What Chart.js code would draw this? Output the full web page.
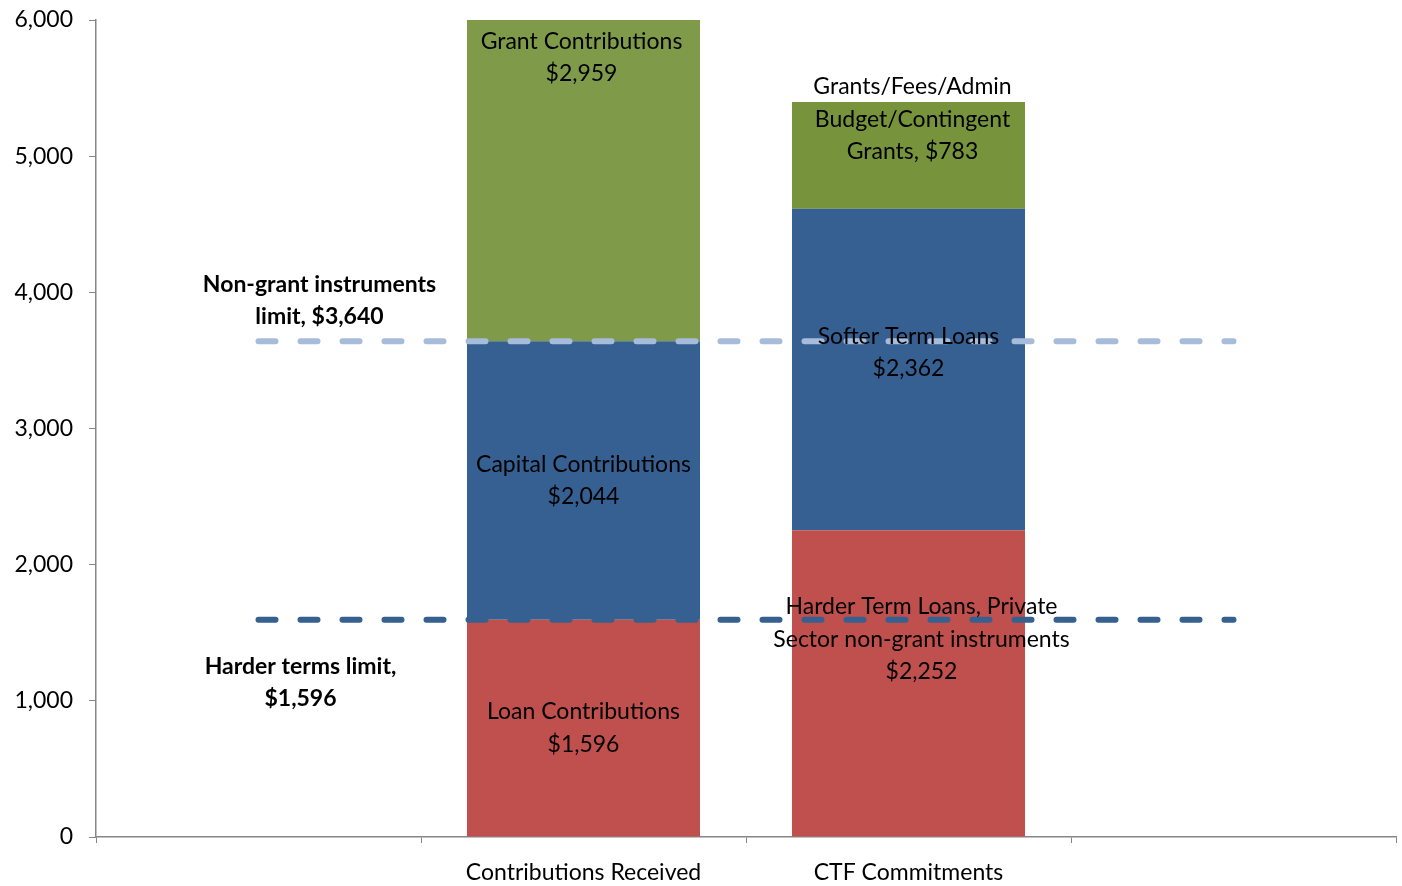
<!DOCTYPE html>
<html>
<head>
<meta charset="utf-8">
<script src="https://cdn.jsdelivr.net/npm/chart.js@4/dist/chart.umd.min.js"></script>
<style>
  body { margin: 0; background: #fff; }
  #wrap { width: 1402px; height: 886px; }
</style>
</head>
<body>
<div id="wrap"><canvas id="chart"></canvas></div>
<script>
// categories (outer two slots are empty, as in the original sheet)
const categories = ['', 'Contributions Received', 'CTF Commitments', ''];

// stacked segments, bottom to top
const bottomValues = [null, 1596, 2252, null];
const middleValues = [null, 2044, 2362, null];
const topValues = [null, 2959, 783, null];

// segment label text
const bottomLabels = [null, ['Loan Contributions', '$1,596'], ['Harder Term Loans, Private', 'Sector non-grant instruments', '$2,252'], null];
const middleLabels = [null, ['Capital Contributions', '$2,044'], ['Softer Term Loans', '$2,362'], null];
const topLabels = [null, ['Grant Contributions', '$2,959'], ['Grants/Fees/Admin', 'Budget/Contingent', 'Grants, $783'], null];

// limit lines
const nonGrantLimit = 3640;
const harderTermsLimit = 1596;
const nonGrantLabel = ['Non-grant instruments', 'limit, $3,640'];
const harderTermsLabel = ['Harder terms limit,', '$1,596'];

const yTicks = [0, 1000, 2000, 3000, 4000, 5000, 6000];

// label nudges in pixels (the labels were hand moved in the original)
const segmentOffsets = {
    0: [null, [0, 0], [13, -44], null],
    1: [null, [0, 0], [0, -17], null],
    2: [null, [-2, -123], [4, -36], null]
};

const FONT = 'Lato';
const LINE_H = 32.5;

const labelPlugin = {
    id: 'segmentLabels',
    afterDatasetsDraw(chart) {
        const ctx = chart.ctx;
        const area = chart.chartArea;
        const texts = [bottomLabels, middleLabels, topLabels];
        ctx.save();
        ctx.textAlign = 'center';
        ctx.textBaseline = 'middle';
        ctx.fillStyle = '#000';
        ctx.font = '23px ' + FONT;
        for (let d = 0; d < 3; d++) {
            const meta = chart.getDatasetMeta(d);
            meta.data.forEach((el, i) => {
                const lines = texts[d][i];
                if (!lines) return;
                const top = Math.max(el.y, area.top);
                const cy = (top + el.base) / 2 + segmentOffsets[d][i][1];
                const cx = el.x + segmentOffsets[d][i][0];
                lines.forEach((t, k) => {
                    ctx.fillText(t, cx, cy + (k - (lines.length - 1) / 2) * LINE_H);
                });
            });
        }
        // limit line labels
        const xs = chart.scales.x, ys = chart.scales.y;
        ctx.font = 'bold 23px ' + FONT;
        const drawBlock = (lines, cx, cy) => {
            lines.forEach((t, k) => {
                ctx.fillText(t, cx, cy + (k - (lines.length - 1) / 2) * LINE_H);
            });
        };
        drawBlock(nonGrantLabel, xs.getPixelForValue(0) + 61, ys.getPixelForValue(nonGrantLimit) - 41);
        drawBlock(harderTermsLabel, xs.getPixelForValue(0) + 42, ys.getPixelForValue(harderTermsLimit) + 63);
        ctx.restore();
    }
};

const lineStyle = {
    type: 'line',
    borderWidth: 6,
    borderDash: [17, 25],
    borderCapStyle: 'round',
    pointRadius: 0,
    fill: false,
    order: 0
};

const ctx = document.getElementById('chart').getContext('2d');
new Chart(ctx, {
    type: 'bar',
    data: {
        labels: categories,
        datasets: [
            { label: 'Loans', data: bottomValues, backgroundColor: '#C0504D', stack: 'bars', order: 1 },
            { label: 'Capital', data: middleValues, backgroundColor: '#376092', stack: 'bars', order: 1 },
            { label: 'Grants', data: topValues, backgroundColor: ['#7F9B49', '#7F9B49', '#77933C', '#77933C'], stack: 'bars', order: 1 },
            Object.assign({ label: 'Non-grant limit', data: categories.map(() => nonGrantLimit), borderColor: '#A7BCDA', stack: 'l1' }, lineStyle),
            Object.assign({ label: 'Harder terms limit', data: categories.map(() => harderTermsLimit), borderColor: '#35608F', stack: 'l2' }, lineStyle)
        ]
    },
    options: {
        responsive: true,
        maintainAspectRatio: false,
        animation: false,
        devicePixelRatio: 1,
        layout: { padding: { top: 20, right: 6, left: 0, bottom: 0 } },
        datasets: {
            bar: { barPercentage: 0.717, categoryPercentage: 1, borderWidth: 0 }
        },
        plugins: {
            legend: { display: false },
            tooltip: { enabled: false }
        },
        scales: {
            x: {
                stacked: true,
                offset: true,
                grid: { offset: true, drawOnChartArea: false, tickLength: 6, color: '#868686', tickColor: '#868686' },
                border: { color: '#868686', width: 1.5 },
                ticks: { color: '#000', font: { family: FONT, size: 23 }, padding: 16, maxRotation: 0, autoSkip: false },
                afterFit(scale) { scale.height = 49; }
            },
            y: {
                stacked: true,
                min: 0,
                max: 6000,
                afterBuildTicks(scale) { scale.ticks = yTicks.map(v => ({ value: v })); },
                grid: { drawOnChartArea: false, tickLength: 7, color: '#868686', tickColor: '#868686' },
                border: { color: '#868686', width: 1.5 },
                ticks: {
                    color: '#000',
                    font: { family: FONT, size: 23 },
                    padding: 16,
                    callback: v => v.toLocaleString('en-US')
                },
                afterFit(scale) {
                    scale.width = 96;
                    scale.paddingTop = 0;
                    scale.paddingBottom = 0;
                }
            }
        }
    },
    plugins: [labelPlugin]
});
</script>
</body>
</html>
